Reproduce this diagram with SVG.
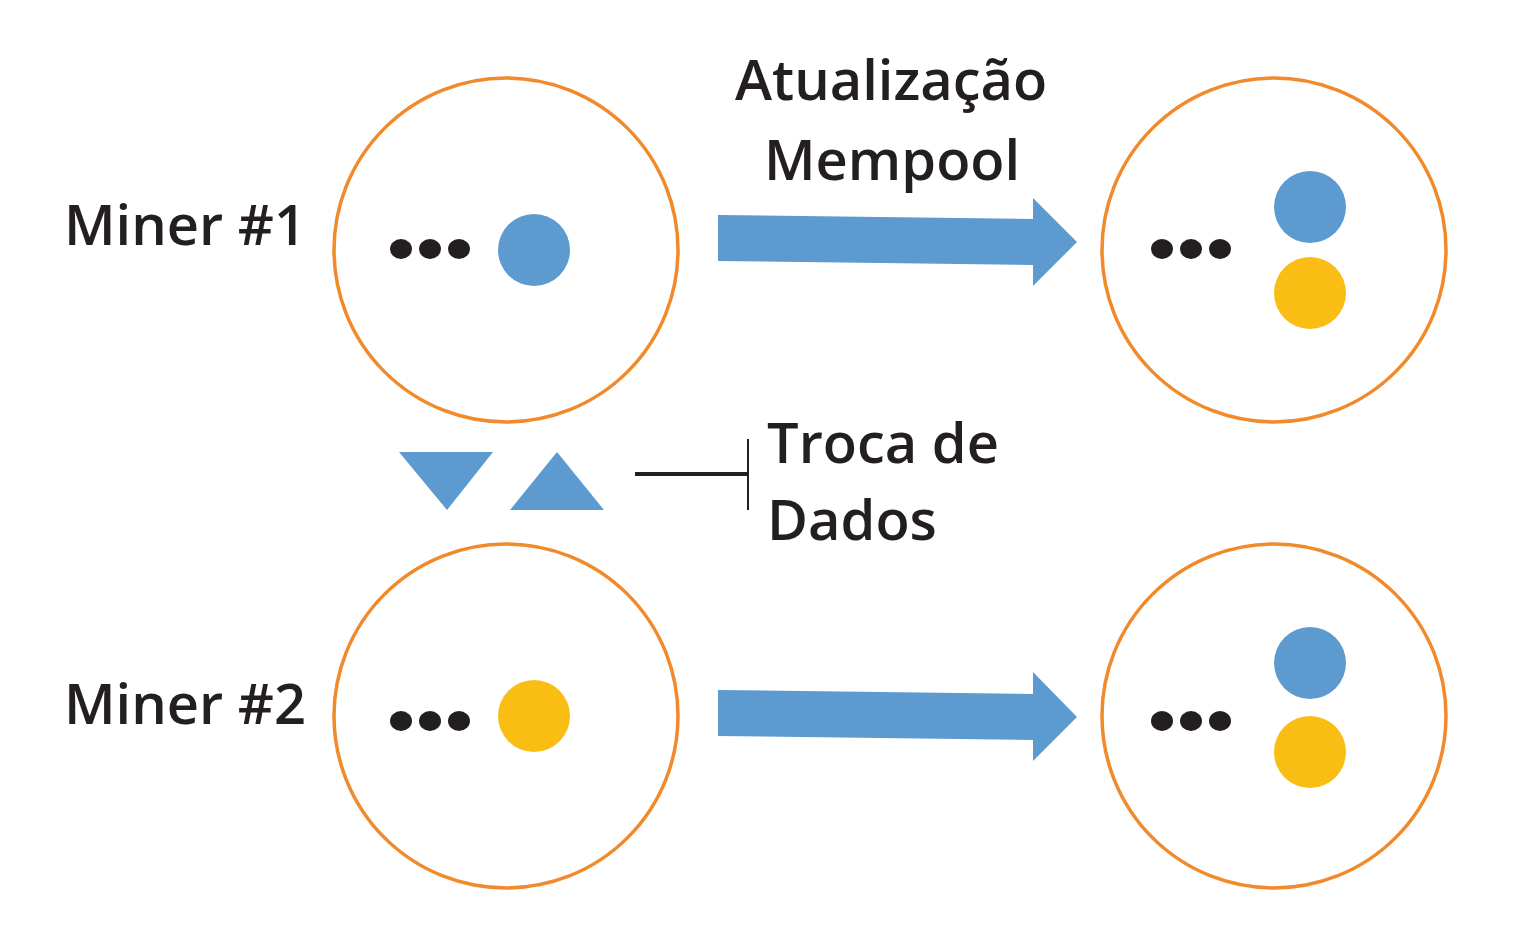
<svg xmlns="http://www.w3.org/2000/svg" width="1519" height="947" viewBox="0 0 1519 947">
<style>
.ring{fill:#fff;stroke:#F08A2A;stroke-width:3.5}
.dot{fill:#231F20}
.blue{fill:#5D9AD0}
.yellow{fill:#F9BD13}
.lbl{font-family:"Open Sans","Liberation Sans",sans-serif;font-size:56px;font-weight:600;fill:#231F20}
</style>
<rect width="1519" height="947" fill="#fff"/>
<defs>
<g id="dots"><ellipse cx="0" cy="0" rx="11" ry="10"/><ellipse cx="29" cy="0" rx="11" ry="10"/><ellipse cx="58" cy="0" rx="11" ry="10"/></g>
</defs>
<g id="connectors">
<polygon class="blue" points="718,215 1033,219 1033,198 1077,242 1033,286 1033,265 718,261"/>
<polygon class="blue" points="718,690 1033,694 1033,672 1077,717 1033,761 1033,740 718,736"/>
<polygon class="blue" points="399,452 493,452 447,510"/>
<polygon class="blue" points="510,510 604,510 557,452"/>
<line x1="635" y1="474" x2="748" y2="474" stroke="#231F20" stroke-width="4"/>
<line x1="748" y1="439" x2="748" y2="510" stroke="#231F20" stroke-width="2"/>
</g>
<g id="miner1">
<circle class="ring" cx="506" cy="250" r="172"/>
<use href="#dots" class="dot" x="401" y="249"/>
<circle class="blue" cx="534" cy="250" r="36"/>
</g>
<g id="miner1-updated">
<circle class="ring" cx="1274" cy="250" r="172"/>
<use href="#dots" class="dot" x="1162" y="249"/>
<circle class="blue" cx="1310" cy="207" r="36"/>
<circle class="yellow" cx="1310" cy="293" r="36"/>
</g>
<g id="miner2">
<circle class="ring" cx="506" cy="716" r="172"/>
<use href="#dots" class="dot" x="401" y="721"/>
<circle class="yellow" cx="534" cy="716" r="36"/>
</g>
<g id="miner2-updated">
<circle class="ring" cx="1274" cy="716" r="172"/>
<use href="#dots" class="dot" x="1162" y="721"/>
<circle class="blue" cx="1310" cy="663" r="36"/>
<circle class="yellow" cx="1310" cy="752" r="36"/>
</g>
<g id="labels">
<text class="lbl" x="64" y="245">Miner #1</text>
<text class="lbl" x="64" y="724">Miner #2</text>
<text class="lbl" x="735" y="100">Atualização</text>
<text class="lbl" x="764" y="180">Mempool</text>
<text class="lbl" x="767" y="463">Troca de</text>
<text class="lbl" x="767" y="540">Dados</text>
</g>
</svg>
